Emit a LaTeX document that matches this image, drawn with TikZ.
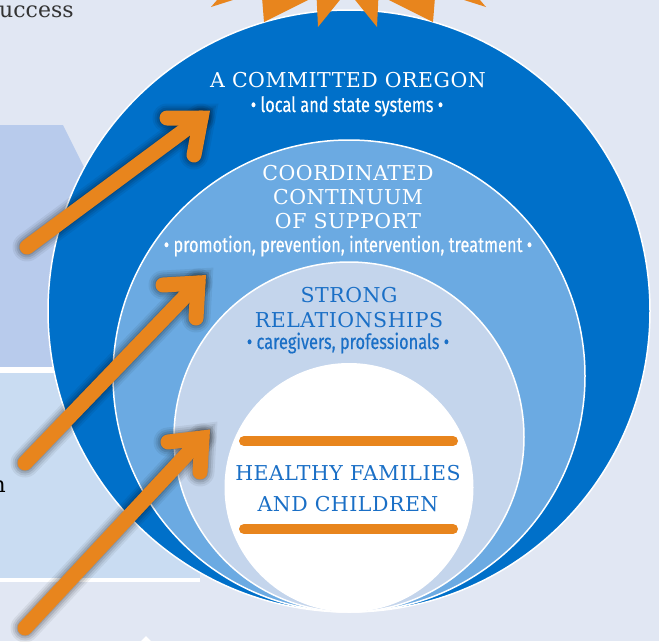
\documentclass[tikz,border=0pt]{standalone}
\usepackage{fontspec}
\newfontfamily\headfont{DejaVu Serif}[LetterSpace=2.5]
\newfontfamily\subfont{Fira Sans}[FakeStretch=0.78, FakeBold=0.4]
\newfontfamily\outfont{DejaVu Serif}
\definecolor{bg}{HTML}{E1E7F3}
\definecolor{panelA}{HTML}{B8CBEC}
\definecolor{panelB}{HTML}{C9DCF2}
\definecolor{dblue}{HTML}{0070C9}
\definecolor{mblue}{HTML}{6BAAE2}
\definecolor{lblue}{HTML}{C4D5EC}
\definecolor{orng}{HTML}{E8851D}
\definecolor{tblue}{HTML}{1A6FC6}
\definecolor{dgray}{HTML}{333333}
\tikzset{
  ring/.style={draw=white, line width=1.5pt},
  ray/.style={fill=orng},
  arr/.style={draw=orng, line width=15pt, line cap=round, line join=miter},
  arrshadow/.style={draw=black, line cap=round, line join=miter},
  headtxt/.style={font=\headfont\fontsize{20.5}{22}\selectfont, anchor=base, inner sep=0pt},
  subtxt/.style={font=\subfont\fontsize{21}{23}\selectfont, anchor=base, inner sep=0pt},
}
\begin{document}
\begin{tikzpicture}[x=1pt,y=-1pt]
\useasboundingbox (0,0) rectangle (659,641);
\fill[bg] (0,0) rectangle (659,641);
% left panels
\fill[panelA] (0,125) -- (63,125) -- (130,259) -- (130,367) -- (0,367) -- cycle;
\fill[white] (0,367) rectangle (200,373);
\fill[panelB] (0,373) rectangle (200,578);
\fill[white] (0,578) rectangle (200,582);
\fill[white] (141,641) -- (146,636) -- (151,641) -- cycle;
% outside text
\node[font=\outfont\fontsize{22}{24}\selectfont, text=dgray, anchor=base west, inner sep=0pt] (uc) at (-1,17) {uccess};
\node[font=\outfont\fontsize{22}{24}\selectfont, text=black, anchor=base east, inner sep=0pt] (nn) at (6,492) {n};
% circles
\fill[dblue] (349,311) circle[radius=301];
\draw[ring] (349,311) circle[radius=301];
\fill[mblue] (349,376) circle[radius=236];
\draw[ring] (349,376) circle[radius=236];
\fill[lblue] (349,437) circle[radius=175];
\draw[ring] (349,437) circle[radius=175];
\fill[white] (349,487.5) circle[radius=124.5];
% sun rays
\fill[ray] (211,7) -- (230,-15) -- (280,-15) -- cycle;
\fill[ray] (264,22) -- (261,-15) -- (338,-15) -- cycle;
\fill[ray] (318,27) -- (316,-15) -- (352,-15) -- cycle;
\fill[ray] (377,27) -- (379,-15) -- (343,-15) -- cycle;
\fill[ray] (433,22) -- (436,-15) -- (359,-15) -- cycle;
\fill[ray] (486,7) -- (467,-15) -- (417,-15) -- cycle;
% texts
\node[headtxt, text=white] (t1) at (348,87) {A COMMITTED OREGON};
\node[subtxt, text=white] (s1) at (347,112) {• local and state systems •};
\node[headtxt, text=white] (t2a) at (348,180) {COORDINATED};
\node[headtxt, text=white] (t2b) at (348,204) {CONTINUUM};
\node[headtxt, text=white] (t2c) at (348,228) {OF SUPPORT};
\node[subtxt, text=white] (s2) at (348,252) {• promotion, prevention, intervention, treatment •};
\node[headtxt, text=tblue] (t3a) at (349,302) {STRONG};
\node[headtxt, text=tblue] (t3b) at (349,327) {RELATIONSHIPS};
\node[subtxt, text=tblue] (s3) at (348,349) {• caregivers, professionals •};
\node[headtxt, text=tblue] (t4a) at (348,480) {HEALTHY FAMILIES};
\node[headtxt, text=tblue] (t4b) at (348,511) {AND CHILDREN};
% orange bars
\coordinate (b1l) at (244,441); \coordinate (b1r) at (453,441);
\coordinate (b2l) at (244,529); \coordinate (b2r) at (453,529);
\draw[orng, line width=10pt, line cap=round] (b1l) -- (b1r);
\draw[orng, line width=10pt, line cap=round] (b2l) -- (b2r);
% arrows
\coordinate (a1t) at (27,247); \coordinate (a1c) at (201,118); \coordinate (a1l) at (167,118); \coordinate (a1d) at (194,155);
\coordinate (a2t) at (25,463); \coordinate (a2c) at (198,283); \coordinate (a2l) at (163,285); \coordinate (a2d) at (196,318);
\coordinate (a3t) at (25,628); \coordinate (a3c) at (202,438); \coordinate (a3l) at (168,442); \coordinate (a3d) at (200,472);
\foreach \t/\c/\l/\d in {a1t/a1c/a1l/a1d, a2t/a2c/a2l/a2d, a3t/a3c/a3l/a3d}{
  \foreach \w/\o in {29/0.06, 25/0.08, 21/0.1, 17/0.12}{
    \draw[arrshadow, line width=\w pt, opacity=\o, shift={(5,6)}] (\t) -- (\c);
    \draw[arrshadow, line width=\w pt, opacity=\o, shift={(5,6)}] (\l) -- (\c) -- (\d);
  }
  \draw[arr] (\t) -- (\c);
  \draw[arr] (\l) -- (\c) -- (\d);
}
\end{tikzpicture}
\end{document}
